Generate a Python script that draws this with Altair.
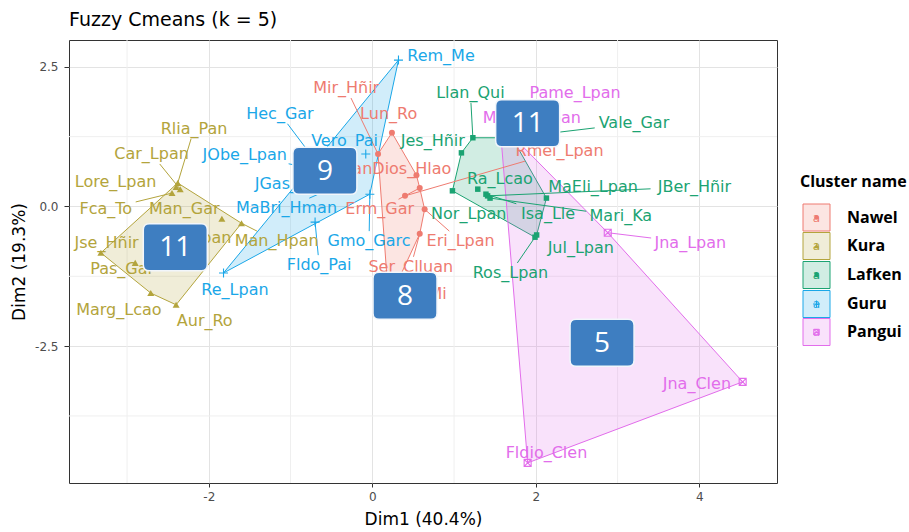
import math
import altair as alt
import pandas as pd

# ---------------------------------------------------------------- data
CLUSTERS = ["Nawel", "Kura", "Lafken", "Guru", "Pangui"]
PALETTE = ["#EE7B70", "#B3A43C", "#1BA372", "#1AA7E8", "#E26DEB"]

NAMES = [
    "Lun_Ro", "Mir_Hñir", "JuanDios_Hlao", "Erm_Gar", "Rmel_Lpan", "Eri_Lpan", "Ser_Clluan", "Ana_Mi",
    "Rlia_Pan", "Lore_Lpan", "Car_Lpan", "Fca_To", "Man_Gar", "Man_Hpan", "Jse_Hñir", "Pas_Gar",
    "Marg_Lcao", "Aur_Ro", "Ana_Lpan",
    "Llan_Qui", "Jes_Hñir", "Vale_Gar", "Nor_Lpan", "Ra_Lcao", "JBer_Hñir", "Isa_Lle", "Mari_Ka",
    "MaEli_Lpan", "Jul_Lpan", "Ros_Lpan",
    "Rem_Me", "Hec_Gar", "Vero_Pai", "JObe_Lpan", "JGas_Lpan", "MaBri_Hman", "Gmo_Garc", "Fldo_Pai", "Re_Lpan",
    "Pame_Lpan", "MaCar_Lpan", "Jna_Lpan", "Jna_Clen", "Fldio_Clen",
]
GROUP = ["Nawel"] * 8 + ["Kura"] * 11 + ["Lafken"] * 11 + ["Guru"] * 9 + ["Pangui"] * 5

DIM1 = [
    0.24, 0.07, 0.54, 0.58, 0.40, 0.64, 0.58, 0.20,
    -2.38, -2.40, -2.35, -2.45, -1.84, -1.60, -3.32, -2.90, -2.71, -2.40, -2.17,
    1.23, 1.09, 1.71, 0.98, 1.29, 1.41, 1.39, 1.44, 2.13, 2.01, 1.99,
    0.32, -0.62, -0.08, -0.46, -0.34, -0.52, -0.03, -0.70, -1.82,
    1.56, 1.68, 2.88, 4.53, 1.90,
]
DIM2 = [
    1.32, 0.94, 0.56, 0.33, 0.19, -0.05, -0.49, -1.69,
    0.42, 0.35, 0.31, 0.24, -0.22, -0.30, -0.83, -1.01, -1.55, -1.76, -0.71,
    1.23, 0.96, 1.23, 0.28, 0.31, 0.19, 0.22, 0.15, 0.15, -0.51, -0.55,
    2.62, 0.67, 0.94, 0.60, 0.37, 0.31, 0.22, -0.28, -1.19,
    1.49, 1.26, -0.47, -3.14, -4.59,
]
# repelled label positions (Dim1 / Dim2 units)
LABEL_X = [
    0.20, -0.32, 0.27, 0.09, 2.29, 1.08, 0.47, 0.56,
    -2.18, -3.14, -2.70, -3.26, -2.30, -1.17, -3.25, -3.06, -3.10, -2.05, -2.20,
    1.20, 0.74, 3.20, 1.18, 1.56, 3.94, 2.15, 3.04, 2.70, 2.55, 1.69,
    0.84, -1.13, -0.34, -1.56, -0.935, -1.05, -0.04, -0.65, -1.68,
    2.48, 1.95, 3.89, 3.97, 2.13,
]
LABEL_Y = [
    1.66, 2.12, 0.67, -0.05, 0.99, -0.62, -1.08, -1.57,
    1.39, 0.44, 0.94, -0.05, -0.05, -0.62, -0.65, -1.12, -1.85, -2.05, -0.56,
    2.03, 1.17, 1.49, -0.13, 0.49, 0.35, -0.13, -0.17, 0.35, -0.74, -1.19,
    2.69, 1.66, 1.17, 0.92, 0.40, -0.03, -0.62, -1.05, -1.49,
    2.03, 1.58, -0.65, -3.18, -4.41,
]

# cluster-size callouts, in CLUSTERS order
BOX_DIM1 = [0.40, -2.41, 1.90, -0.58, 2.81]
BOX_DIM2 = [-1.60, -0.73, 1.49, 0.64, -2.44]

MAJOR_X = [-2, 0, 2, 4]
MINOR_X = [-3, -1, 1, 3]
MAJOR_Y = [-2.5, 0.0, 2.5]
MINOR_Y = [-3.75, -1.25, 1.25]

# ---------------------------------------------------------------- layout
XMIN, XMAX = -3.71, 4.95
YMIN, YMAX = -4.95, 2.98
W, H = 708, 443
PAD = {"left": 69, "top": 40, "right": 909 - 69 - W, "bottom": 532 - 40 - H}
KX = W / (XMAX - XMIN)
KY = H / (YMAX - YMIN)

LABEL_FONT = "DejaVu Sans"
LABEL_SIZE = 16


def to_px(x, y):
    return (x - XMIN) * KX, (YMAX - y) * KY


def from_px(px, py):
    return XMIN + px / KX, YMAX - py / KY


obs = pd.DataFrame({"name": NAMES, "cluster": GROUP, "x": DIM1, "y": DIM2,
                    "lx": LABEL_X, "ly": LABEL_Y})

# leader segments from each point to the edge of its label box
seg_rows = []
for n, g, x, y, lx, ly in zip(NAMES, GROUP, DIM1, DIM2, LABEL_X, LABEL_Y):
    px, py = to_px(x, y)
    cx, cy = to_px(lx, ly)
    hw = 9.3 * len(n) / 2 + 2
    hh = 10
    dx, dy = px - cx, py - cy
    tx = hw / abs(dx) if dx else math.inf
    ty = hh / abs(dy) if dy else math.inf
    t = min(tx, ty)
    if t >= 1:
        continue
    ex, ey = cx + t * dx, cy + t * dy
    if math.hypot(px - ex, py - ey) < 17:
        continue
    x2, y2 = from_px(ex, ey)
    seg_rows.append({"cluster": g, "x": x, "y": y, "x2": x2, "y2": y2})
segs = pd.DataFrame(seg_rows)


def convex_hull(points):
    pts = sorted(set(points))
    if len(pts) <= 2:
        return pts

    def cross(o, a, b):
        return (a[0] - o[0]) * (b[1] - o[1]) - (a[1] - o[1]) * (b[0] - o[0])

    lower, upper = [], []
    for p in pts:
        while len(lower) >= 2 and cross(lower[-2], lower[-1], p) <= 0:
            lower.pop()
        lower.append(p)
    for p in reversed(pts):
        while len(upper) >= 2 and cross(upper[-2], upper[-1], p) <= 0:
            upper.pop()
        upper.append(p)
    return lower[:-1] + upper[:-1]


xs = alt.Scale(domain=[XMIN, XMAX], nice=False, zero=False)
ys = alt.Scale(domain=[YMIN, YMAX], nice=False, zero=False)
cscale = alt.Scale(domain=CLUSTERS, range=PALETTE)

FIX_MINUS = "replace(datum.label, '−', '-')"
X_AXIS = alt.Axis(values=MAJOR_X, title="Dim1 (40.4%)", grid=True, labelExpr=FIX_MINUS)
Y_AXIS = alt.Axis(values=MAJOR_Y, title="Dim2 (19.3%)", grid=True, format=".1f",
                  labelExpr=FIX_MINUS)

PLUS = "M -1 0 L 1 0 M 0 -1 L 0 1"
BOXX = "M -1 -1 L 1 -1 L 1 1 L -1 1 Z M -1 -1 L 1 1 M -1 1 L 1 -1"
SHAPES = {
    "Nawel": ("circle", True, 36),
    "Kura": ("triangle-up", True, 49),
    "Lafken": ("square", True, 30),
    "Guru": (PLUS, False, 81),
    "Pangui": (BOXX, False, 49),
}
ROUNDED = ("M -0.81 -0.734 L 0.81 -0.734 Q 1 -0.734 1 -0.544 L 1 0.544 "
           "Q 1 0.734 0.81 0.734 L -0.81 0.734 Q -1 0.734 -1 0.544 "
           "L -1 -0.544 Q -1 -0.734 -0.81 -0.734 Z")


def X(field):
    return alt.X(field, type="quantitative", scale=xs, axis=X_AXIS)


def Y(field):
    return alt.Y(field, type="quantitative", scale=ys, axis=Y_AXIS)


layers = []

# minor grid
layers.append(
    alt.Chart(pd.DataFrame({"v": MINOR_X})).mark_rule(color="#EFEFEF", strokeWidth=1)
    .encode(x=X("v"))
)
layers.append(
    alt.Chart(pd.DataFrame({"v": MINOR_Y})).mark_rule(color="#EFEFEF", strokeWidth=1)
    .encode(y=Y("v"))
)

# cluster hulls
for cl, col in zip(CLUSTERS, PALETTE):
    sub = obs[obs.cluster == cl]
    hull = convex_hull(list(zip(sub.x, sub.y)))
    hdf = pd.DataFrame({"x": [p[0] for p in hull], "y": [p[1] for p in hull],
                        "i": list(range(len(hull)))})
    layers.append(
        alt.Chart(hdf).mark_line(interpolate="linear-closed", fill=col, fillOpacity=0.2,
                                 stroke=col, strokeWidth=1)
        .encode(x=X("x"), y=Y("y"), order=alt.Order("i:Q"))
    )

# points
for cl, col in zip(CLUSTERS, PALETTE):
    shape, filled, size = SHAPES[cl]
    sub = obs[obs.cluster == cl]
    if filled:
        mk = alt.Chart(sub).mark_point(shape=shape, size=size, filled=True, fill=col,
                                       opacity=1, strokeWidth=0)
    else:
        mk = alt.Chart(sub).mark_point(shape=shape, size=size, filled=False, stroke=col,
                                       opacity=1, strokeWidth=1.1)
    layers.append(mk.encode(x=X("x"), y=Y("y")))

# leader segments
layers.append(
    alt.Chart(segs).mark_rule(strokeWidth=1)
    .encode(x=X("x"), y=Y("y"), x2="x2:Q", y2="y2:Q",
            color=alt.Color("cluster:N", scale=cscale, legend=None))
)

# labels
layers.append(
    alt.Chart(obs).mark_text(font=LABEL_FONT, fontSize=LABEL_SIZE, baseline="middle", align="center")
    .encode(x=X("lx"), y=Y("ly"), text="name:N",
            color=alt.Color("cluster:N", scale=cscale, legend=None))
)

# cluster-size callouts
counts = [GROUP.count(c) for c in CLUSTERS]
boxes = pd.DataFrame({"cluster": CLUSTERS, "x": BOX_DIM1, "y": BOX_DIM2,
                      "n": [str(c) for c in counts]})
layers.append(
    alt.Chart(boxes).mark_point(shape=ROUNDED, size=4096, filled=True, fill="#3E7EC1",
                                stroke="#F2F6FB", strokeWidth=1.5, opacity=1)
    .encode(x=X("x"), y=Y("y"))
)
layers.append(
    alt.Chart(boxes).mark_text(font="Open Sans", fontSize=28, color="white",
                               baseline="middle", align="center", dy=1)
    .encode(x=X("x"), y=Y("y"), text="n:N")
)

# legend, placed to the right of the panel through the same scales
key_x, _ = from_px(816.5 - PAD["left"], 0)
lab_x, _ = from_px(847 - PAD["left"], 0)
ttl_x, ttl_y = from_px(800 - PAD["left"], 182 - PAD["top"])
key_py = [217.5, 246, 275, 304, 332]
leg = pd.DataFrame({
    "cluster": CLUSTERS,
    "kx": [key_x] * 5,
    "lx": [lab_x] * 5,
    "y": [from_px(0, p - PAD["top"])[1] for p in key_py],
    "a": ["a"] * 5,
})
layers.append(
    alt.Chart(pd.DataFrame({"x": [ttl_x], "y": [ttl_y], "t": ["Cluster name"]}))
    .mark_text(font="Open Sans", fontSize=16, fontWeight="bold", align="left",
               baseline="middle", color="black")
    .encode(x=X("x"), y=Y("y"), text="t:N")
)
layers.append(
    alt.Chart(leg).mark_point(shape="square", size=729, filled=True, fillOpacity=0.2,
                              strokeOpacity=1, strokeWidth=1)
    .encode(x=X("kx"), y=Y("y"),
            fill=alt.Fill("cluster:N", scale=cscale, legend=None),
            stroke=alt.Stroke("cluster:N", scale=cscale, legend=None))
)
layers.append(
    alt.Chart(leg).mark_text(font=LABEL_FONT, fontSize=12, baseline="middle", align="center")
    .encode(x=X("kx"), y=Y("y"), text="a:N",
            color=alt.Color("cluster:N", scale=cscale, legend=None))
)
for cl, col in zip(CLUSTERS, PALETTE):
    shape, filled, size = SHAPES[cl]
    sub = leg[leg.cluster == cl]
    if filled:
        mk = alt.Chart(sub).mark_point(shape=shape, size=size * 0.6, filled=True, fill=col,
                                       opacity=1, strokeWidth=0)
    else:
        mk = alt.Chart(sub).mark_point(shape=shape, size=size * 0.6, filled=False, stroke=col,
                                       opacity=1, strokeWidth=1)
    layers.append(mk.encode(x=X("kx"), y=Y("y")))
layers.append(
    alt.Chart(leg).mark_text(font="Open Sans", fontSize=16, fontWeight="bold",
                             align="left", baseline="middle", color="black")
    .encode(x=X("lx"), y=Y("y"), text="cluster:N")
)

chart = (
    alt.layer(*layers)
    .properties(
        width=W, height=H,
        autosize=alt.AutoSizeParams(type="none"),
        padding=PAD,
        title=alt.Title("Fuzzy Cmeans (k = 5)", anchor="start", frame="group",
                        font="DejaVu Sans", fontSize=19, fontWeight="normal",
                        color="#000000", offset=10),
    )
    .configure_view(stroke="#333333", strokeWidth=1)
    .configure_axis(domain=False, tickColor="#333333", tickSize=4, labelColor="#4D4D4D",
                    labelFont="DejaVu Sans", labelFontSize=12, titleFont="DejaVu Sans",
                    titleFontSize=17, titleFontWeight="normal", titleColor="#000000",
                    gridColor="#E3E3E3", gridWidth=1)
    .configure_axisX(labelPadding=4, titlePadding=9)
    .configure_axisY(labelPadding=6, titlePadding=6, tickSize=5)
)

chart.save("out.html", embed_options={"renderer": "svg", "actions": False})
